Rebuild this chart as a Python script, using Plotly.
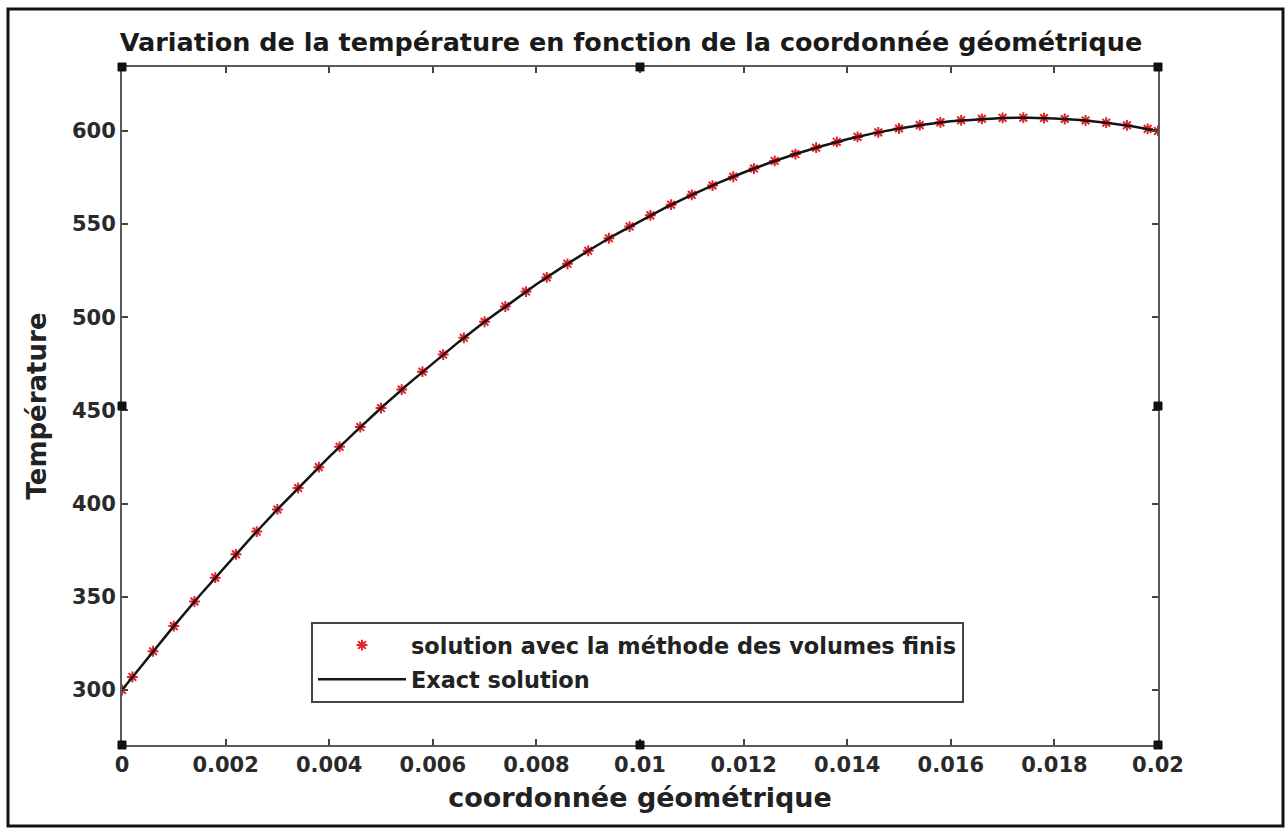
import plotly.graph_objects as go

# Finite-volume solution (cell centres + boundary nodes)
x_fv = [0.0, 0.0002, 0.0006, 0.0010, 0.0014, 0.0018, 0.0022, 0.0026, 0.0030, 0.0034,
        0.0038, 0.0042, 0.0046, 0.0050, 0.0054, 0.0058, 0.0062, 0.0066, 0.0070, 0.0074,
        0.0078, 0.0082, 0.0086, 0.0090, 0.0094, 0.0098, 0.0102, 0.0106, 0.0110, 0.0114,
        0.0118, 0.0122, 0.0126, 0.0130, 0.0134, 0.0138, 0.0142, 0.0146, 0.0150, 0.0154,
        0.0158, 0.0162, 0.0166, 0.0170, 0.0174, 0.0178, 0.0182, 0.0186, 0.0190, 0.0194,
        0.0198, 0.0200]
t_fv = [300.0, 307.0, 320.8, 334.3, 347.5, 360.3, 372.8, 385.0, 396.9, 408.4,
        419.6, 430.5, 441.1, 451.3, 461.2, 470.8, 480.0, 489.0, 497.6, 505.8,
        513.8, 521.4, 528.7, 535.7, 542.4, 548.7, 554.7, 560.4, 565.7, 570.7,
        575.4, 579.8, 583.9, 587.6, 591.0, 594.1, 596.8, 599.2, 601.3, 603.1,
        604.6, 605.7, 606.5, 607.0, 607.1, 606.9, 606.4, 605.6, 604.4, 603.0,
        601.1, 600.0]

# Exact solution
x_ex = [0.0, 0.0005, 0.0010, 0.0015, 0.0020, 0.0025, 0.0030, 0.0035, 0.0040, 0.0045,
        0.0050, 0.0055, 0.0060, 0.0065, 0.0070, 0.0075, 0.0080, 0.0085, 0.0090, 0.0095,
        0.0100, 0.0105, 0.0110, 0.0115, 0.0120, 0.0125, 0.0130, 0.0135, 0.0140, 0.0145,
        0.0150, 0.0155, 0.0160, 0.0165, 0.0170, 0.0175, 0.0180, 0.0185, 0.0190, 0.0195,
        0.0200]
t_ex = [300.0, 317.4, 334.3, 350.7, 366.6, 382.0, 396.9, 411.2, 425.1, 438.4,
        451.3, 463.6, 475.4, 486.8, 497.6, 507.9, 517.7, 526.9, 535.7, 544.0,
        551.7, 559.0, 565.7, 572.0, 577.7, 582.9, 587.6, 591.8, 595.5, 598.7,
        601.3, 603.5, 605.2, 606.3, 607.0, 607.1, 606.7, 605.8, 604.4, 602.5,
        600.0]

x_ticks = [0, 0.002, 0.004, 0.006, 0.008, 0.01, 0.012, 0.014, 0.016, 0.018, 0.02]
x_tick_labels = ["0", "0.002", "0.004", "0.006", "0.008", "0.01", "0.012", "0.014", "0.016", "0.018", "0.02"]
y_ticks = [300, 350, 400, 450, 500, 550, 600]

FONT = "DejaVu Sans, Liberation Sans, sans-serif"

fig = go.Figure()
fig.add_trace(go.Scatter(
    x=x_fv, y=t_fv, mode="markers", legendgroup="fv",
    name="solution avec la méthode des volumes finis",
    marker=dict(symbol="asterisk-open", size=9, color="#e8202a",
                line=dict(color="#e8202a", width=2)),
))
fig.add_trace(go.Scatter(
    x=x_ex, y=t_ex, mode="lines", name="Exact solution", legendgroup="ex",
    line=dict(color="#151515", width=2.5),
))

axis_common = dict(
    showgrid=False, zeroline=False, showline=True, linecolor="#5a5a5a", linewidth=2,
    mirror="ticks", ticks="inside", ticklen=6, tickwidth=1.5, tickcolor="#444",
    tickfont=dict(family=FONT, size=21, color="#2a2a2a", weight="bold"),
)

fig.update_xaxes(
    range=[0, 0.02], tickvals=x_ticks, ticktext=x_tick_labels,
    title=dict(text="coordonnée géométrique", standoff=12,
               font=dict(family=FONT, size=27, color="#222", weight="bold")),
    **axis_common,
)
fig.update_yaxes(
    range=[270.5, 634.3], tickvals=y_ticks,
    title=dict(text="Température", standoff=18,
               font=dict(family=FONT, size=26, color="#222", weight="bold")),
    **axis_common,
)

# outer frame of the picture
fig.add_shape(type="rect", xref="paper", yref="paper",
              x0=(8 - 122) / 1036, x1=(1283 - 122) / 1036,
              y0=(745 - 826) / 678, y1=(745 - 9) / 678,
              line=dict(color="#111", width=3), layer="below")

# selection handles (corners and mid-points)
for hx, hy in [(0, 0), (0.5, 0), (1, 0), (0, 0.5), (1, 0.5), (0, 1), (0.5, 1), (1, 1)]:
    fig.add_shape(type="rect", xref="paper", yref="paper",
                  xsizemode="pixel", ysizemode="pixel", xanchor=hx, yanchor=hy,
                  x0=-4, x1=4, y0=-4, y1=4,
                  fillcolor="#111", line=dict(color="#111", width=1))

fig.update_layout(
    width=1287, height=832,
    margin=dict(l=122, r=129, t=67, b=87),
    paper_bgcolor="white", plot_bgcolor="white",
    title=dict(text="<b>Variation de la température en fonction de la coordonnée géométrique</b>",
               x=631 / 1287, xanchor="center",
               y=1 - 42 / 832, yanchor="middle", yref="container",
               font=dict(family=FONT, size=25.5, color="#1a1a1a")),
    legend=dict(x=(311 - 122) / 1036, y=(745 - 622) / 678, xanchor="left", yanchor="top",
                bgcolor="white", bordercolor="#444", borderwidth=2,
                font=dict(family=FONT, size=22.4, color="#222", weight="bold"),
                itemwidth=88, tracegroupgap=2),
    showlegend=True,
)

fig.write_html("out.html", config={"displayModeBar": False},
               post_script="document.body.style.margin='0';")
